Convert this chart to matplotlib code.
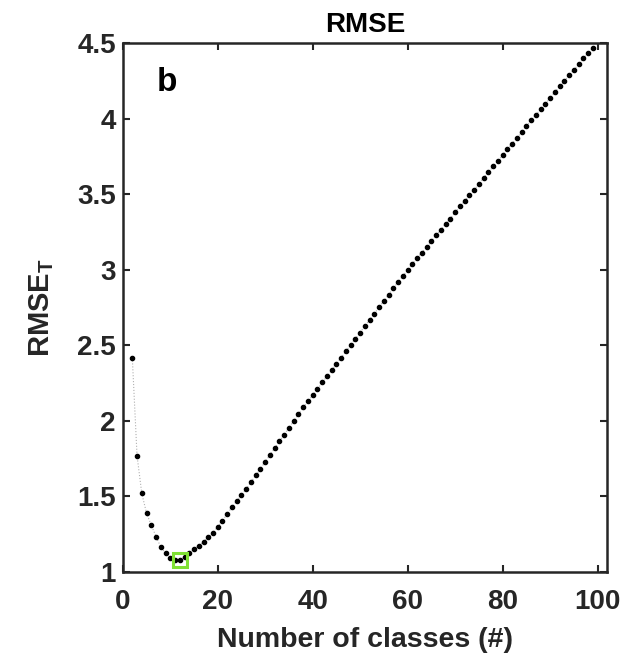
import matplotlib
matplotlib.use("Agg")
import matplotlib.pyplot as plt

plt.rcParams['font.family'] = ['Liberation Sans', 'DejaVu Sans']
plt.rcParams['mathtext.fontset'] = 'custom'
plt.rcParams['mathtext.rm'] = 'Liberation Sans:bold'
plt.rcParams['mathtext.bf'] = 'Liberation Sans:bold'

n_classes = list(range(2, 100))
rmse_t = [2.42, 1.77, 1.52, 1.39, 1.31, 1.235, 1.165, 1.125, 1.095, 1.082, 1.078,
          1.10, 1.125, 1.15, 1.175, 1.20, 1.23, 1.26, 1.30, 1.34, 1.385, 1.43, 1.47,
          1.51, 1.55, 1.595, 1.64, 1.685, 1.73, 1.775, 1.82, 1.865, 1.91, 1.955, 2.00,
          2.045, 2.09, 2.13, 2.17, 2.21, 2.255, 2.295, 2.335, 2.38, 2.42, 2.46, 2.505,
          2.545, 2.585, 2.63, 2.67, 2.71, 2.755, 2.795, 2.835, 2.88, 2.92, 2.96, 3.0,
          3.04, 3.08, 3.115, 3.15, 3.19, 3.23, 3.265, 3.305, 3.34, 3.38, 3.42, 3.455,
          3.495, 3.53, 3.57, 3.61, 3.645, 3.685, 3.72, 3.76, 3.80, 3.835, 3.875, 3.91,
          3.95, 3.99, 4.025, 4.065, 4.10, 4.14, 4.175, 4.215, 4.25, 4.29, 4.325, 4.36,
          4.40, 4.435, 4.47]
best_n = 12
best_rmse = 1.078

x_ticks = [0, 20, 40, 60, 80, 100]
y_ticks = [1, 1.5, 2, 2.5, 3, 3.5, 4, 4.5]
y_tick_labels = ['1', '1.5', '2', '2.5', '3', '3.5', '4', '4.5']

fig = plt.figure(figsize=(6.33, 6.56), dpi=100)
ax = fig.add_axes([0.194, 0.128, 0.765, 0.806])

ax.plot(n_classes, rmse_t, linestyle=':', color='#b0b0b0', linewidth=0.8, zorder=1)
ax.plot(n_classes, rmse_t, linestyle='none', marker='o', markersize=3.0,
        color='black', zorder=2)
ax.plot([best_n], [best_rmse], linestyle='none', marker='s', markersize=10,
        markerfacecolor='none', markeredgecolor='#7fe033', markeredgewidth=2.2, zorder=3)

ax.set_xlim(0, 102)
ax.set_ylim(1, 4.5)
ax.set_xticks(x_ticks)
ax.set_yticks(y_ticks)
ax.set_yticklabels(y_tick_labels)

edge = '#262626'
for s in ax.spines.values():
    s.set_color(edge)
    s.set_linewidth(1.8)
ax.tick_params(direction='in', length=5, width=1.5, colors=edge, top=True, right=True,
               labelsize=20)
ax.tick_params(axis='x', pad=12)
ax.tick_params(axis='y', pad=5)
for lab in ax.get_xticklabels() + ax.get_yticklabels():
    lab.set_fontweight('bold')
    lab.set_color(edge)

ax.set_xlabel('Number of classes (#)', fontsize=20.5, fontweight='bold', color=edge, labelpad=9)
ax.set_ylabel(r'$\mathbf{RMSE}_\mathbf{T}$', fontsize=21, color=edge, labelpad=15)
ax.set_title('RMSE', fontsize=20, fontweight='bold', color='black', pad=8)
ax.text(0.07, 0.925, 'b', transform=ax.transAxes, fontsize=24, fontweight='bold',
        color='black', ha='left', va='center')

fig.savefig('out.png', dpi=100)
